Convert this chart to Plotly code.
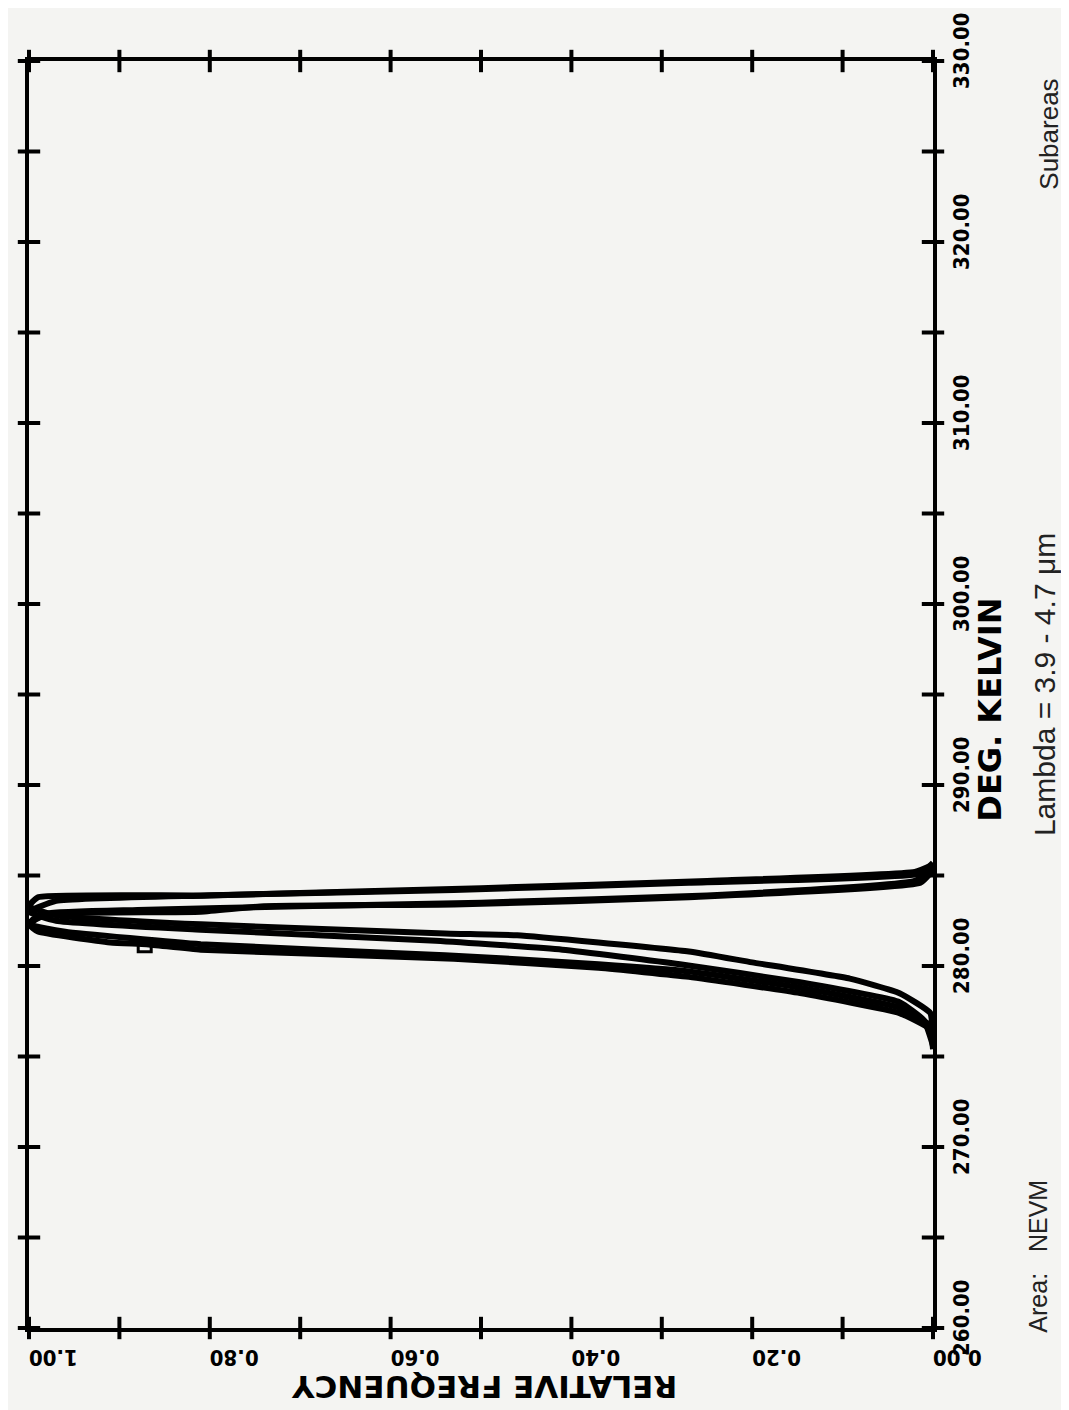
import plotly.graph_objects as go

# temperature (K) / relative frequency readings for the four subarea curves
temp_a = [275.9, 277.4, 278.5, 279.3, 280.2, 280.8, 281.3, 281.7, 281.8, 282.3, 282.8, 283.3,
          283.8, 283.9, 284.2, 284.6, 285.1, 285.7]
freq_a = [0.0, 0.003, 0.037, 0.092, 0.20, 0.27, 0.37, 0.46, 0.54, 0.81, 0.97, 1.0,
          0.99, 0.81, 0.53, 0.27, 0.014, 0.0]

temp_b = [275.4, 276.5, 277.4, 278.5, 279.4, 279.9, 280.4, 280.9, 281.2, 281.3, 281.9, 282.3,
          282.6, 282.9, 283.0, 283.3, 283.4, 283.8, 284.6, 285.3]
freq_b = [0.0, 0.003, 0.037, 0.147, 0.27, 0.37, 0.53, 0.81, 0.87, 0.91, 0.99, 1.0,
          0.995, 0.97, 0.81, 0.74, 0.53, 0.27, 0.014, 0.0]

temp_c = [275.6, 277.0, 278.0, 279.1, 280.1, 280.9, 281.4, 282.0, 282.5, 283.0, 283.6, 283.9,
          284.3, 284.7, 285.2, 285.6]
freq_c = [0.0, 0.01, 0.037, 0.147, 0.28, 0.41, 0.55, 0.81, 0.97, 1.0, 0.97, 0.80,
          0.50, 0.25, 0.02, 0.0]

temp_d = [275.5, 276.7, 277.7, 278.8, 279.7, 280.1, 280.6, 281.2, 281.9, 282.3, 282.9, 283.1,
          283.3, 283.5, 283.9, 284.7, 285.4]
freq_d = [0.0, 0.003, 0.037, 0.147, 0.27, 0.37, 0.54, 0.81, 0.96, 1.0, 0.98, 0.88,
          0.70, 0.50, 0.25, 0.02, 0.0]

# the little square symbol drawn on one curve
mark_temp = [281.15]
mark_freq = [0.872]

temp_ticks = [260, 270, 280, 290, 300, 310, 320, 330]
temp_labels = ["260.00", "270.00", "280.00", "290.00", "300.00", "310.00", "320.00", "330.00"]
temp_minor = [260, 265, 270, 275, 280, 285, 290, 295, 300, 305, 310, 315, 320, 325, 330]
freq_ticks = [0.0, 0.2, 0.4, 0.6, 0.8, 1.0]
freq_labels = ["0.00", "0.20", "0.40", "0.60", "0.80", "1.00"]
freq_minor = [0.0, 0.1, 0.2, 0.3, 0.4, 0.5, 0.6, 0.7, 0.8, 0.9, 1.0]

BG = "#f4f4f2"
TICKFONT = dict(family="DejaVu Sans Condensed", size=22, color="black", weight="bold")
TEXTFONT = dict(family="Liberation Sans", size=25, color="#222222")

fig = go.Figure()

for t, f in [(temp_a, freq_a), (temp_b, freq_b), (temp_c, freq_c), (temp_d, freq_d)]:
    fig.add_trace(go.Scatter(x=f, y=t, mode="lines",
                             line=dict(color="black", width=6, shape="spline", smoothing=0.4)))

fig.add_trace(go.Scatter(x=mark_freq, y=mark_temp, mode="markers",
                         marker=dict(symbol="square-open", size=13, color="black",
                                     line=dict(color="black", width=3))))

# cross ticks along the frame
fig.add_trace(go.Scatter(
    x=freq_minor * 2,
    y=[temp_minor[0]] * len(freq_minor) + [temp_minor[-1]] * len(freq_minor),
    mode="markers", cliponaxis=False,
    marker=dict(symbol="line-ns", size=16, color="black", line=dict(color="black", width=4))))
fig.add_trace(go.Scatter(
    x=[freq_minor[0]] * len(temp_minor) + [freq_minor[-1]] * len(temp_minor),
    y=temp_minor * 2,
    mode="markers", cliponaxis=False,
    marker=dict(symbol="line-ew", size=16, color="black", line=dict(color="black", width=4))))

fig.update_xaxes(range=[1.0, 0.0], tickvals=freq_ticks, ticktext=freq_labels,
                 tickangle=180, tickfont=TICKFONT, ticks="", ticklabelstandoff=14,
                 ticklabeloverflow="allow", automargin=False,
                 showgrid=False, zeroline=False,
                 showline=True, mirror=True, linecolor="black", linewidth=4)
fig.update_yaxes(range=[260, 330], side="right", tickvals=temp_ticks, ticktext=temp_labels,
                 tickangle=-90, tickfont=TICKFONT, ticks="", ticklabelstandoff=6,
                 ticklabelshift=-7, ticklabeloverflow="allow", automargin=False,
                 showgrid=False, zeroline=False,
                 showline=True, mirror=True, linecolor="black", linewidth=4)

fig.add_annotation(text="DEG. KELVIN", xref="paper", yref="paper", x=1.063, y=0.488,
                   textangle=-90, showarrow=False, xanchor="center", yanchor="middle",
                   font=dict(family="DejaVu Sans", size=32, color="black", weight="bold"))
fig.add_annotation(text="RELATIVE FREQUENCY", xref="paper", yref="paper", x=0.504, y=-0.047,
                   textangle=180, showarrow=False, xanchor="center", yanchor="middle",
                   font=dict(family="DejaVu Sans", size=31, color="black", weight="bold"))
fig.add_annotation(text="Lambda = 3.9 - 4.7 μm", xref="paper", yref="paper", x=1.124, y=0.5075,
                   textangle=-90, showarrow=False, xanchor="center", yanchor="middle",
                   font=dict(TEXTFONT, size=30))
fig.add_annotation(text="Area:   NEVM", xref="paper", yref="paper", x=1.116, y=0.057,
                   textangle=-90, showarrow=False, xanchor="center", yanchor="middle",
                   font=TEXTFONT)
fig.add_annotation(text="Subareas", xref="paper", yref="paper", x=1.128, y=0.9424,
                   textangle=-90, showarrow=False, xanchor="center", yanchor="middle",
                   font=dict(TEXTFONT, size=26))

# page body has an 8px margin, so the figure is sized to end at the window edge
fig.update_layout(
    width=1061, height=1402,
    margin=dict(l=21, r=136, t=53, b=82, autoexpand=False),
    paper_bgcolor=BG, plot_bgcolor=BG,
    showlegend=False,
)

fig.write_html("out.html")
